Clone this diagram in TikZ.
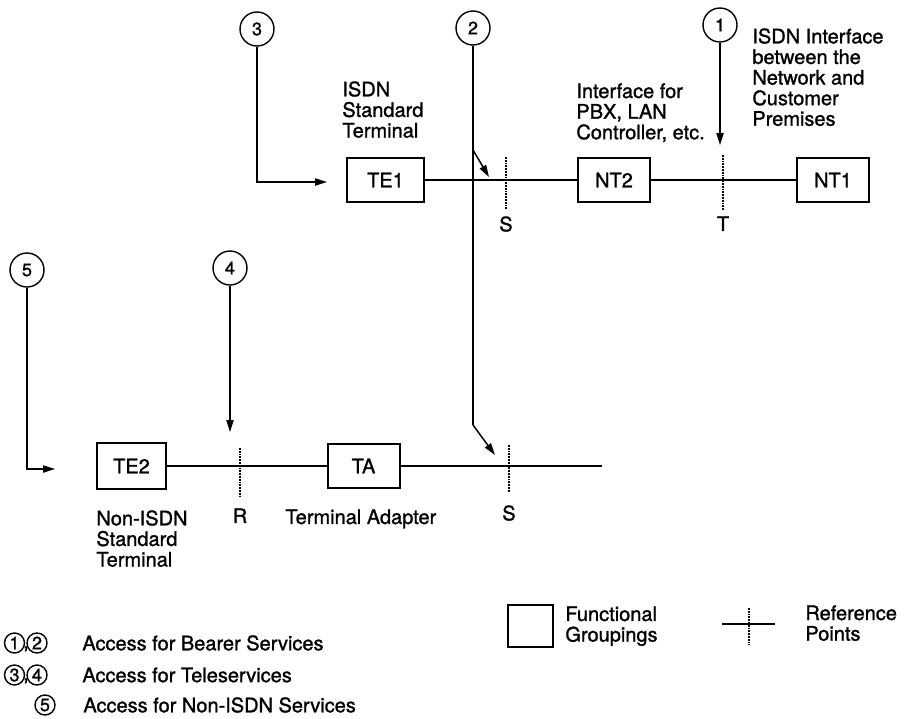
\documentclass[tikz,border=0pt]{standalone}
\usepackage{fontspec}
\setmainfont{TeX Gyre Heros}[FakeBold=1.2]
\usetikzlibrary{arrows.meta,positioning,calc}
\newcommand{\lbfont}{\fontsize{10}{10.3}\selectfont}
\newcommand{\numfont}{\fontsize{9}{9}\selectfont}
\tikzset{
  fgrp/.style={draw, line width=1pt, minimum width=36pt, minimum height=22pt, inner sep=0pt, font=\lbfont},
  acc/.style={circle, draw, line width=0.7pt, minimum size=17pt, inner sep=0pt, font=\numfont},
  accs/.style={circle, draw, line width=0.7pt, minimum size=10pt, inner sep=0pt, font=\numfont},
  wire/.style={line width=0.75pt},
  pre/.style={wire, -{Triangle[length=6pt,width=3.6pt]}},
  refpt/.style={line width=1.4pt, dash pattern=on 0.9pt off 0.5pt},
  lbl/.style={font=\lbfont, inner sep=0pt, align=left},
}

\begin{document}
\begin{tikzpicture}[x=0.5pt,y=-0.5pt]
\useasboundingbox (0,0) rectangle (905,718);
% functional groupings, upper row
\node[fgrp, minimum width=38.5pt] (te1) at (385.5,180) {TE1};
\node[fgrp] (nt2) at (614,180) {NT2};
\node[fgrp] (nt1) at (833,180) {NT1};
\draw[wire] (te1.east) -- (nt2.west);
\draw[wire] (nt2.east) -- (nt1.west);
\coordinate (sU) at (506,180);
\coordinate (tU) at (723,180);
\draw[refpt] (sU) ++(0,-23) -- ++(0,53);
\draw[refpt] (tU) ++(0,-25) -- ++(0,55);
\node[lbl, anchor=north] (sUl) at (506,216) {S};
\node[lbl, anchor=north] (tUl) at (723,216) {T};
% functional groupings, lower row
\node[fgrp, minimum width=34.5pt, minimum height=23pt] (te2) at (131.5,466) {TE2};
\node[fgrp] (ta) at (363.5,466) {TA};
\coordinate (rL) at (240,466);
\coordinate (sL) at (509,466);
\coordinate (lend) at (602,466);
\draw[wire] (te2.east) -- (ta.west);
\draw[wire] (ta.east) -- (lend);
\draw[refpt] (rL) ++(0,-18) -- ++(0,50);
\draw[refpt] (sL) ++(0,-21) -- ++(0,47);
\node[lbl, anchor=north] (rLl) at (240,508) {R};
\node[lbl, anchor=north] (sLl) at (509,505) {S};
% descriptions
\node[lbl, anchor=north west] (te1d) at (342,81) {ISDN\\Standard\\Terminal};
\node[lbl, anchor=north west] (nt2d) at (576,83) {Interface for\\PBX, LAN\\Controller, etc.};
\node[lbl, anchor=north west] (nt1d) at (752,28) {ISDN Interface\\between the\\Network and\\Customer\\Premises};
\node[lbl, anchor=north west] (te2d) at (96,510) {Non-ISDN\\Standard\\Terminal};
\node[lbl, anchor=north west] (tad) at (285,509) {Terminal Adapter};
% access points
\node[acc] (c1) at (720,25) {1};
\node[acc] (c2) at (473,28) {2};
\node[acc] (c3) at (257,29) {3};
\node[acc] (c4) at (230,268) {4};
\node[acc] (c5) at (27,270) {5};
\coordinate (p1) at (720,145);
\coordinate (b2u) at (473,150);
\coordinate (p2u) at (489,177);
\coordinate (b2l) at (473,425);
\coordinate (p2l) at (495,455);
\coordinate (p3) at (327,182);
\coordinate (p4) at (230,432);
\coordinate (p5) at (55,469);
\draw[pre] (c1) -- (p1);
\draw[wire] (c2) -- (b2l);
\draw[pre] (b2u) -- (p2u);
\draw[pre] (b2l) -- (p2l);
\draw[pre] (c3) |- (p3);
\draw[pre] (c4) -- (p4);
\draw[pre] (c5) |- (p5);
% legend
\node[fgrp, minimum width=22.5pt, minimum height=21pt] (lgbox) at (530.5,626) {};
\node[lbl, anchor=north west] (lgboxt) at (565,606) {Functional\\Groupings};
\coordinate (lgref) at (749,624);
\draw[wire] (lgref) ++(-27,0) -- ++(53,0);
\draw[refpt] (lgref) ++(0,-16) -- ++(0,37);
\node[lbl, anchor=north west] (lgreft) at (805,605) {Reference\\Points};
\foreach \a/\b/\y/\t in {1/2/643/Access for Bearer Services,3/4/675/Access for Teleservices} {
  \node[accs] (k\a) at (14.5,\y) {\a};
  \node[accs] (k\b) at (37,\y) {\b};
  \node[lbl, anchor=north] at (26,\y+3) {,};
  \node[lbl, anchor=west] (kt\a) at (82,\y) {\t};
}
\node[accs] (k5) at (45,705) {5};
\node[lbl, anchor=west] (kt5) at (83,705) {Access for Non-ISDN Services};
\end{tikzpicture}
\end{document}
